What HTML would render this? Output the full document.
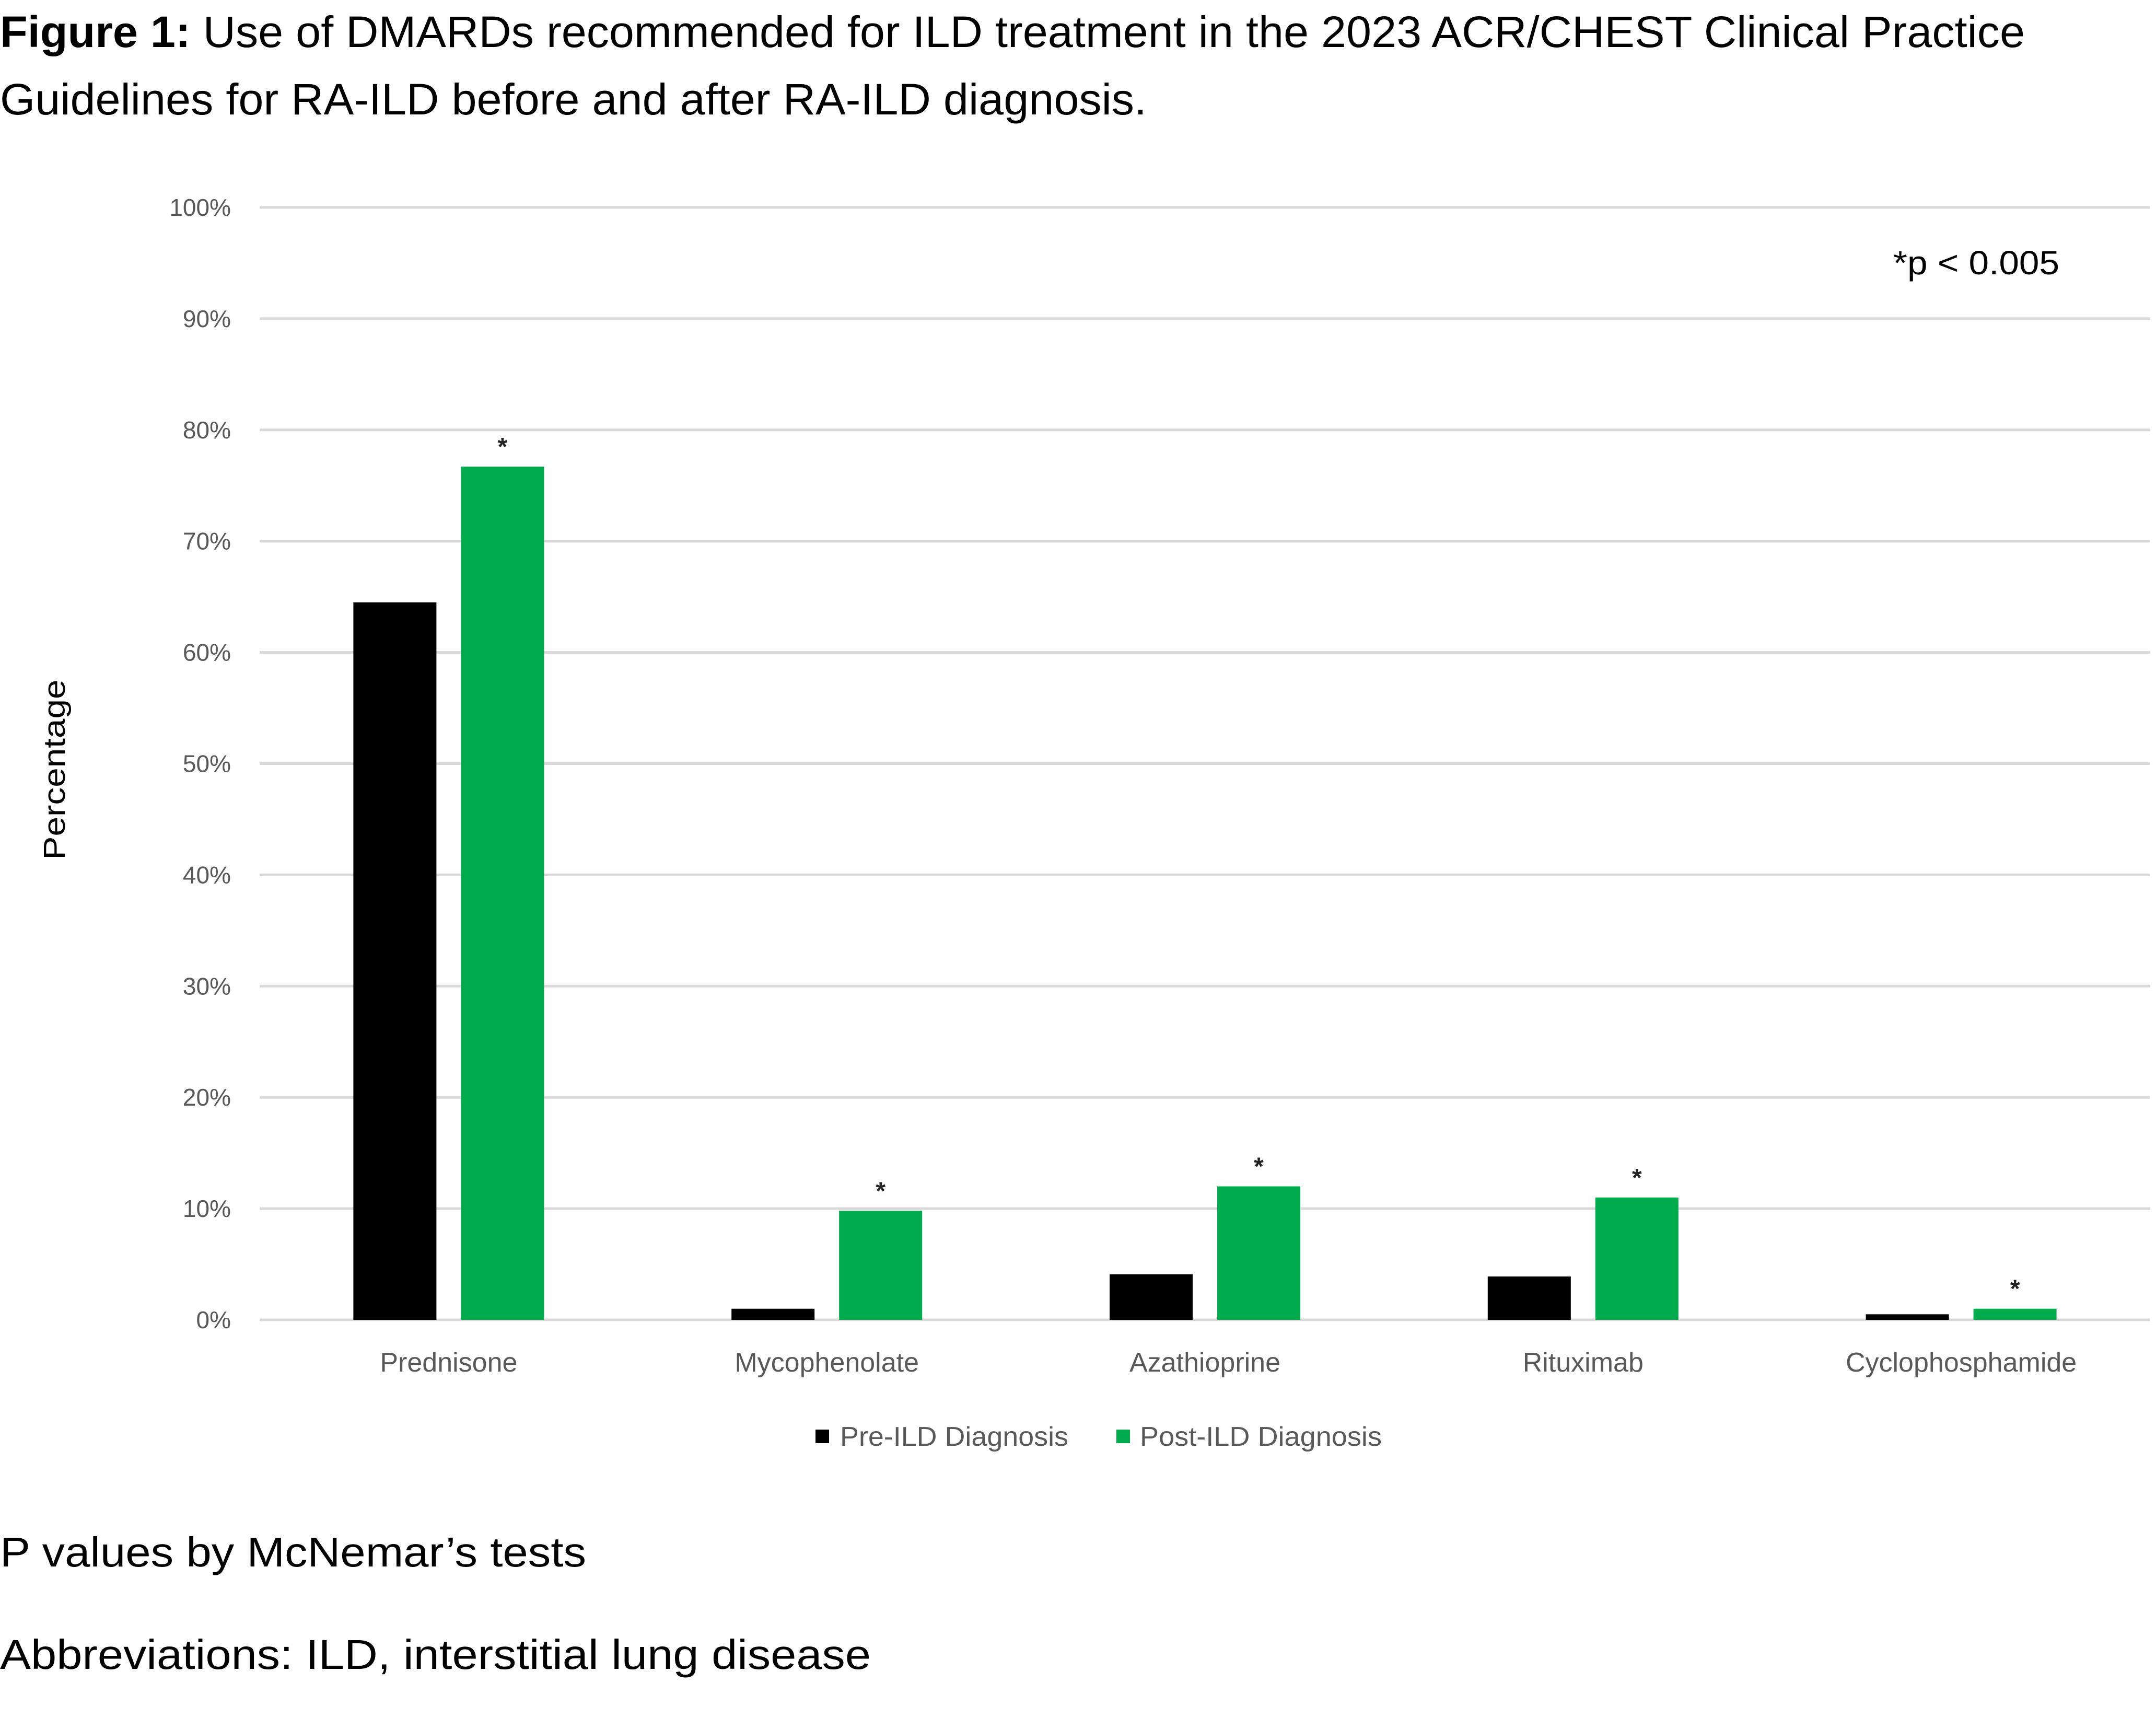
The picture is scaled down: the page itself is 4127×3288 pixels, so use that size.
<!DOCTYPE html>
<html><head><meta charset="utf-8"><style>
html,body{margin:0;padding:0;background:#fff;}
svg{display:block;font-family:"Liberation Sans",sans-serif;}
</style></head><body>
<svg id="chart" width="4127" height="3288" viewBox="0 0 4127 3288" xmlns="http://www.w3.org/2000/svg">
<text x="0" y="90" font-size="84" fill="#000" textLength="3876" lengthAdjust="spacingAndGlyphs"><tspan font-weight="bold">Figure 1:</tspan> Use of DMARDs recommended for ILD treatment in the 2023 ACR/CHEST Clinical Practice</text>
<text x="0" y="219" font-size="84" fill="#000" textLength="2195" lengthAdjust="spacingAndGlyphs">Guidelines for RA-ILD before and after RA-ILD diagnosis.</text>
<g id="grid"></g>
<g id="yticks"></g>
<text transform="translate(124,1473) rotate(-90)" text-anchor="middle" font-size="58" fill="#000" textLength="345" lengthAdjust="spacingAndGlyphs">Percentage</text>
<g id="bars"></g>
<g id="xlabels"></g>
<text x="3624" y="525" font-size="64" fill="#000" textLength="318" lengthAdjust="spacingAndGlyphs">*p &lt; 0.005</text>
<g>
<rect x="1561" y="2736" width="26" height="26" fill="#000"/>
<text x="1608" y="2767" font-size="52" fill="#595959" textLength="437" lengthAdjust="spacingAndGlyphs">Pre-ILD Diagnosis</text>
<rect x="2137" y="2736" width="26" height="26" fill="#00AB4E"/>
<text x="2182" y="2767" font-size="52" fill="#595959" textLength="463" lengthAdjust="spacingAndGlyphs">Post-ILD Diagnosis</text>
</g>
<text x="0" y="2998" font-size="80" fill="#000" textLength="1122" lengthAdjust="spacingAndGlyphs">P values by McNemar’s tests</text>
<text x="0" y="3194" font-size="80" fill="#000" textLength="1667" lengthAdjust="spacingAndGlyphs">Abbreviations: ILD, interstitial lung disease</text>
</svg>
<script>
const categories = ["Prednisone","Mycophenolate","Azathioprine","Rituximab","Cyclophosphamide"];
const preValues = [64.5, 1.0, 4.1, 3.9, 0.5];
const postValues = [76.7, 9.8, 12.0, 11.0, 1.0];
const significant = [true, true, true, true, true];
const yTicks = [0,10,20,30,40,50,60,70,80,90,100];
const yTickLabels = ["0%","10%","20%","30%","40%","50%","60%","70%","80%","90%","100%"];

const NS="http://www.w3.org/2000/svg";
const L=497,R=4116,T=397,B=2526;
function y(v){return B-(v/100)*(B-T);}
const bw=(R-L)/categories.length;
function xc(i){return L+bw*(i+0.5);}
function mk(tag,attrs,parent){const e=document.createElementNS(NS,tag);for(const k in attrs)e.setAttribute(k,attrs[k]);parent.appendChild(e);return e;}
const grid=document.getElementById('grid'),yt=document.getElementById('yticks'),bars=document.getElementById('bars'),xl=document.getElementById('xlabels');
yTicks.forEach((t,i)=>{
  const ln=mk('line',{x1:L,x2:R,y1:y(t),y2:y(t),stroke:'#d9d9d9','stroke-width':5},grid);
  
  
  const tx=mk('text',{x:442,y:y(t)+16,'text-anchor':'end','font-size':46,fill:'#595959'},yt);
  tx.textContent=yTickLabels[i];
  
  
});
const barW=159,off=103;
categories.forEach((c,i)=>{
  const cx=xc(i);
  const b1=mk('rect',{x:cx-off-barW/2,y:y(preValues[i]),width:barW,height:B-y(preValues[i]),fill:'#000'},bars);
  
  
  const b2=mk('rect',{x:cx+off-barW/2,y:y(postValues[i]),width:barW,height:B-y(postValues[i]),fill:'#00AB4E'},bars);
  
  
  if(significant[i]){
    const s=mk('text',{x:cx+off,y:y(postValues[i])-22,'text-anchor':'middle','font-size':48,'font-weight':'bold',fill:'#222'},bars);
    s.textContent='*';
    
    
  }
  const lb=mk('text',{x:cx,y:2625,'text-anchor':'middle','font-size':52,fill:'#595959'},xl);
  lb.textContent=c;
  
  
});
</script>
</body></html>
